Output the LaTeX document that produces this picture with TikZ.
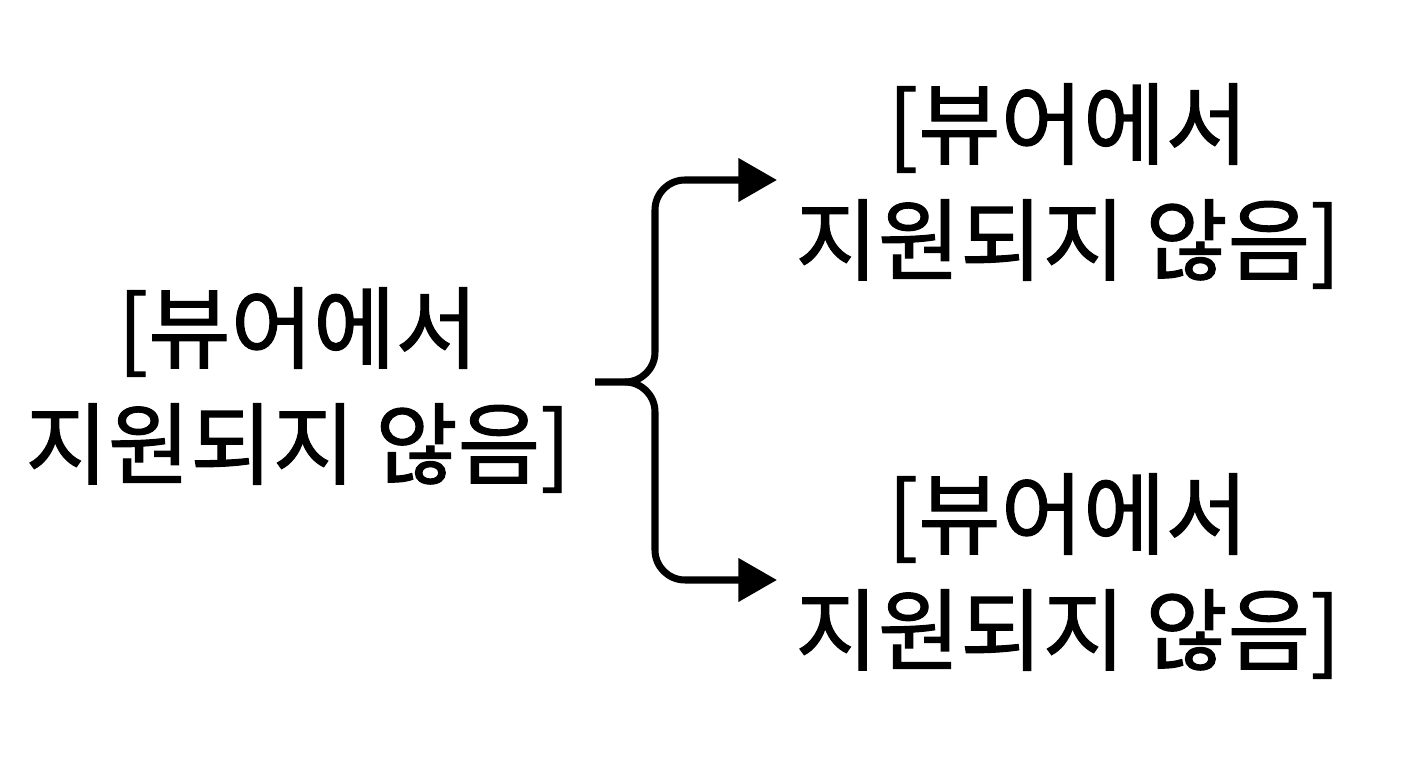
\documentclass[tikz,border=0pt]{standalone}
\usepackage{fontspec}
\newfontfamily\kr{Noto Sans CJK KR}[FakeBold=1.2]
\usetikzlibrary{arrows.meta}
\tikzset{
  label/.style={font=\kr\fontsize{25.5}{33}\selectfont, align=center, inner sep=0pt},
  brace/.style={line width=2pt, -{Triangle[length=11pt,width=12pt]}}
}
\begin{document}
\begin{tikzpicture}
    \useasboundingbox (0,0) rectangle (14.08,7.68);
    \node[label] (src) at (2.98,3.78) {[뷰어에서\\지원되지 않음]};
    \node[label] (up) at (10.68,5.82) {[뷰어에서\\지원되지 않음]};
    \node[label] (down) at (10.68,1.92) {[뷰어에서\\지원되지 않음]};
    \coordinate (fork) at (5.95,3.86);
    \coordinate (upend) at (7.77,5.88);
    \coordinate (downend) at (7.77,1.88);
    % brace split into two arrows
    \draw[brace] (fork) -- (6.25,3.86) to[out=0,in=-90] (6.55,4.16) -- (6.55,5.58) to[out=90,in=180] (6.85,5.88) -- (upend);
    \draw[brace] (6.25,3.86) to[out=0,in=90] (6.55,3.56) -- (6.55,2.18) to[out=-90,in=180] (6.85,1.88) -- (downend);
\end{tikzpicture}
\end{document}
